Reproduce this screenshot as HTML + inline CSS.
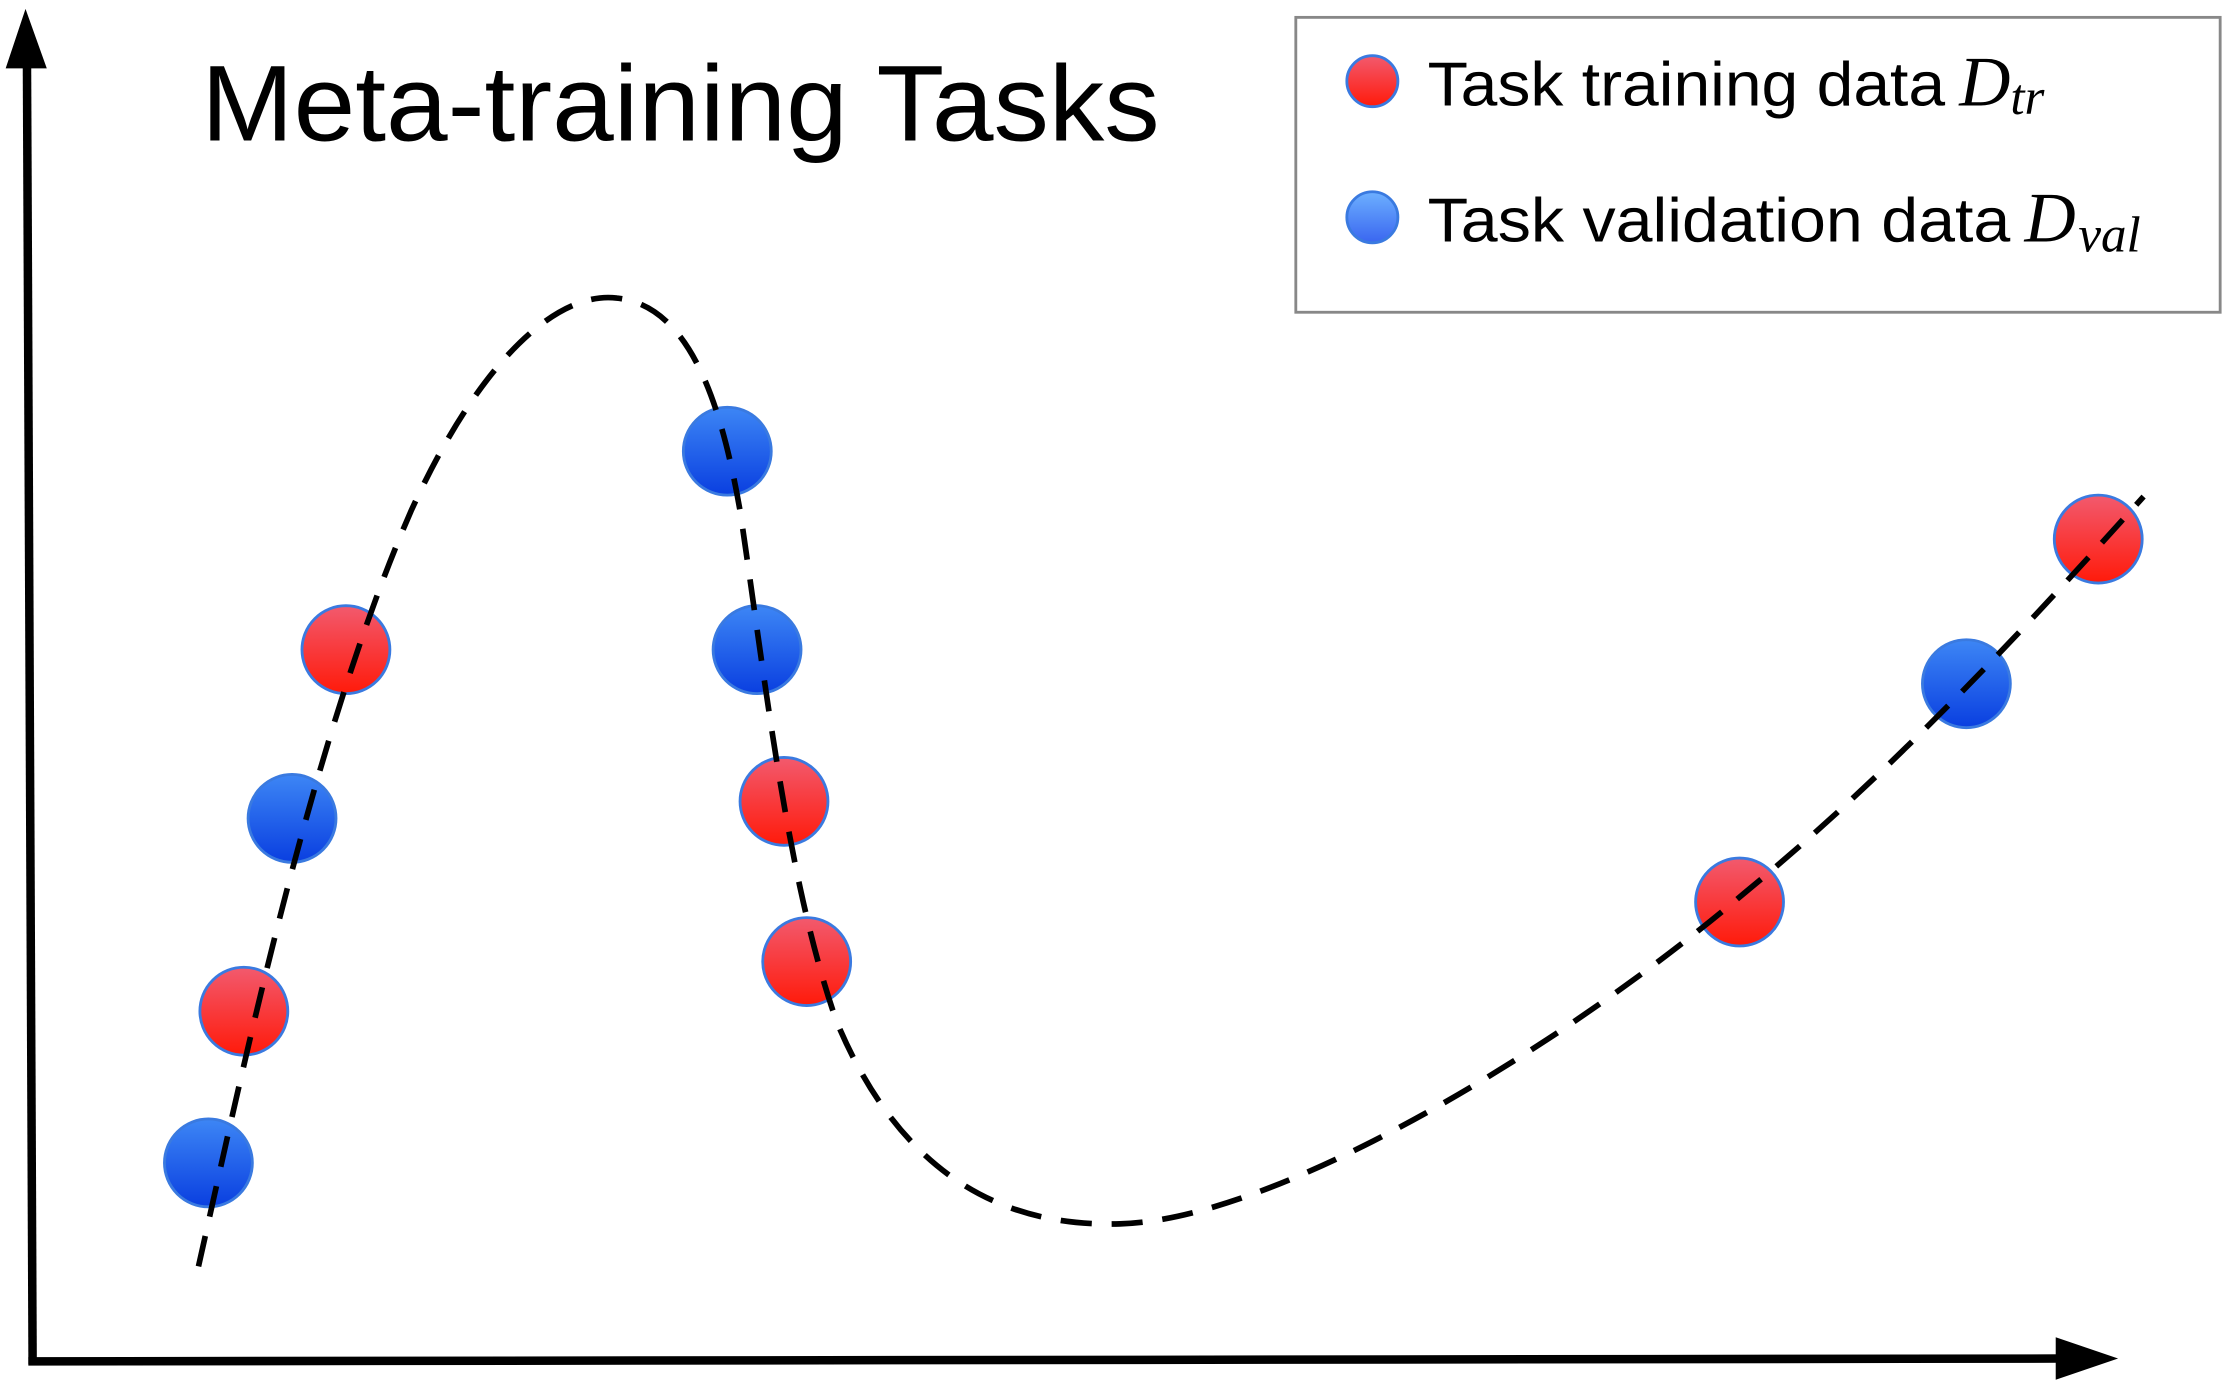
<!DOCTYPE html>
<html><head><meta charset="utf-8"><style>html,body{margin:0;padding:0;background:#fff}svg{display:block}</style></head>
<body>
<svg width="2223" height="1383" viewBox="0 0 1568 975" xmlns="http://www.w3.org/2000/svg">
<defs>
<linearGradient id="r" x1="0" y1="0" x2="0" y2="1"><stop offset="0" stop-color="#f25a6e"/><stop offset="1" stop-color="#ff1a0a"/></linearGradient>
<linearGradient id="b" x1="0" y1="0" x2="0" y2="1"><stop offset="0" stop-color="#3d86f5"/><stop offset="1" stop-color="#0a3fe0"/></linearGradient>
<linearGradient id="lb" x1="0" y1="0" x2="0" y2="1"><stop offset="0" stop-color="#6db0ff"/><stop offset="1" stop-color="#3a66f0"/></linearGradient>
</defs>
<line x1="19" y1="40" x2="23" y2="962" stroke="#000" stroke-width="6"/>
<polygon points="18,6 4,48 33,48" fill="#000"/>
<line x1="20" y1="960" x2="1455" y2="958" stroke="#000" stroke-width="6"/>
<polygon points="1494,958 1450,943 1450,973" fill="#000"/>
<text x="142" y="99" font-family="Liberation Sans, sans-serif" font-size="76" textLength="676" lengthAdjust="spacingAndGlyphs">Meta-training Tasks</text>
<rect x="914" y="12" width="652" height="208" fill="#fff" stroke="#888" stroke-width="2"/>
<circle cx="968" cy="57" r="18" fill="url(#r)" stroke="#3a7ae0" stroke-width="2"/>
<circle cx="968" cy="153" r="18" fill="url(#lb)" stroke="#3a7ae0" stroke-width="2"/>
<text x="1007" y="74" font-family="Liberation Sans, sans-serif" font-size="44" textLength="365" lengthAdjust="spacingAndGlyphs">Task training data</text>
<text x="1382" y="74" font-family="Liberation Serif, serif" font-style="italic" font-size="50">D</text>
<text x="1418" y="80" font-family="Liberation Serif, serif" font-style="italic" font-size="36">tr</text>
<text x="1007" y="170" font-family="Liberation Sans, sans-serif" font-size="44" textLength="411" lengthAdjust="spacingAndGlyphs">Task validation data</text>
<text x="1428" y="170" font-family="Liberation Serif, serif" font-style="italic" font-size="50">D</text>
<text x="1466" y="177" font-family="Liberation Serif, serif" font-style="italic" font-size="36">val</text>
<g stroke="#3a7ae0" stroke-width="2">
<circle cx="513" cy="318" r="31" fill="url(#b)"/>
<circle cx="534" cy="458" r="31" fill="url(#b)"/>
<circle cx="1387" cy="482" r="31" fill="url(#b)"/>
<circle cx="206" cy="577" r="31" fill="url(#b)"/>
<circle cx="147" cy="820" r="31" fill="url(#b)"/>
<circle cx="244" cy="458" r="31" fill="url(#r)"/>
<circle cx="553" cy="565" r="31" fill="url(#r)"/>
<circle cx="569" cy="678" r="31" fill="url(#r)"/>
<circle cx="172" cy="713" r="31" fill="url(#r)"/>
<circle cx="1227" cy="636" r="31" fill="url(#r)"/>
<circle cx="1480" cy="380" r="31" fill="url(#r)"/>
</g>
<path d="M140,893 C170,760 220,520 290,360 C340,250 395,205 435,210 C485,215 508,280 522,360 C540,480 555,620 590,720 C640,840 720,865 790,863 C900,860 1100,740 1230,630 C1340,540 1440,430 1512,350" fill="none" stroke="#000" stroke-width="4" stroke-dasharray="22,14"/>
</svg>
</body></html>
